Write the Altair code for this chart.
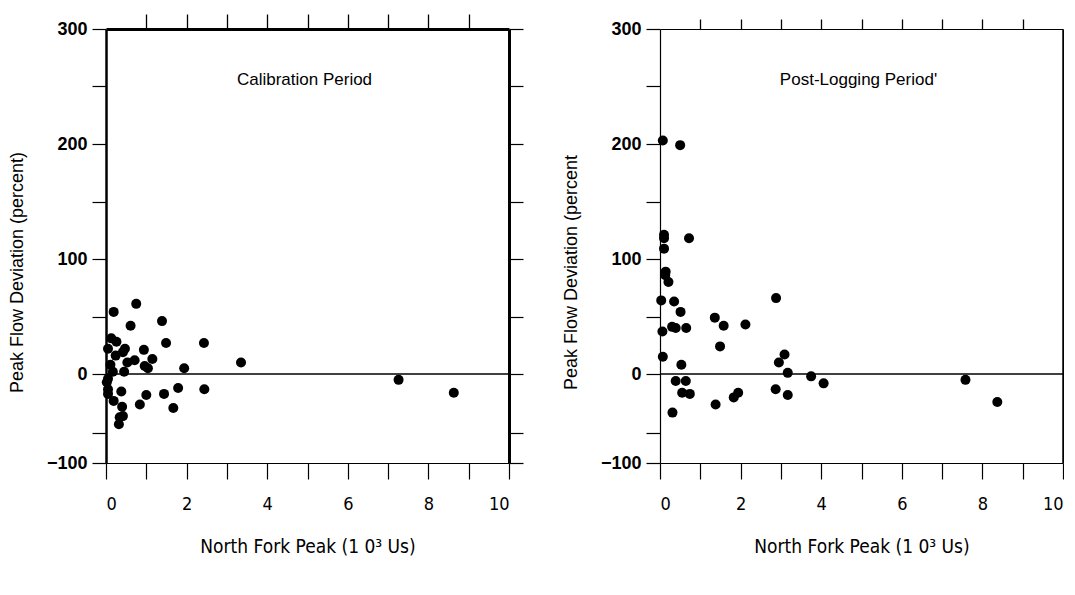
import altair as alt
import pandas as pd

# Calibration period
cal_x = [0.19, 0.75, 0.61, 1.39, 0.13, 0.26, 0.05, 0.47, 0.42, 0.24, 0.94, 1.49, 2.43,
         1.15, 0.71, 0.53, 0.96, 1.04, 0.11, 1.94, 3.35, 0.17, 0.45, 0.05, 0.02, 0.05,
         0.05, 0.38, 1.00, 1.44, 1.79, 2.44, 0.19, 0.84, 1.67, 0.40, 0.42, 0.34, 0.32,
         7.26, 8.63]
cal_y = [54, 61, 42, 46, 31, 28, 22, 22, 19, 16, 21, 27, 27,
         13, 12, 10, 7, 5, 8, 5, 10, 2, 2, -4, -7, -13,
         -17, -15, -18, -17, -12, -13, -23, -26, -29, -28, -36, -37, -43,
         -5, -16]

# Post-logging period
post_x = [0.07, 0.50, 0.10, 0.10, 0.72, 0.10, 0.14, 0.13, 0.21, 0.03, 0.35, 0.51, 2.88,
          1.36, 1.58, 2.12, 0.30, 0.39, 0.65, 0.06, 1.49, 0.07, 0.53, 3.09, 2.95, 3.17,
          3.75, 0.39, 0.64, 0.55, 0.74, 2.87, 3.17, 1.83, 1.94, 1.38, 0.31, 4.06, 7.58,
          8.37]
post_y = [203, 199, 121, 118, 118, 109, 89, 86, 80, 64, 63, 54, 66,
          49, 42, 43, 41, 40, 40, 37, 24, 15, 8, 17, 10, 1,
          -2, -6, -6, -16, -17, -13, -18, -20, -16, -26, -33, -8, -5,
          -24]

x_ticks = list(range(11))
x_top_ticks = list(range(1, 10))
y_ticks = list(range(-100, 301, 50))

W = 403
H = 434
# the scanned figure's lowest segment (-50 to -100) is drawn shorter than the others
Y_DOMAIN = [-100, -50, 0, 300]
Y_RANGE = [H, 403.5, 345, 0]

FONT = "Liberation Sans"
NARROW = "Liberation Sans Narrow, DejaVu Sans Condensed, Liberation Sans"
XTITLE = "North Fork Peak (1 0\u00b3 Us)"


def panel(xs, ys, label, ytitle, left_w, top_w, top_tick, right_w, right_ticks):
    df = pd.DataFrame({"x": xs, "y": ys})
    xscale = alt.Scale(domain=[0, 10], nice=False, zero=False)
    yscale = alt.Scale(domain=Y_DOMAIN, range=Y_RANGE)

    bottom_axis = alt.Axis(
        orient="bottom", values=x_ticks,
        labelExpr="datum.value % 2 === 0 ? datum.label : ''",
        tickSize=16, tickWidth=1.2, tickColor="black",
        domainWidth=1.2, domainColor="black", grid=False,
        labelFont=NARROW, labelFontSize=18, labelColor="black", labelPadding=16,
        title=XTITLE, titleFont=NARROW, titleFontSize=19, titleFontWeight="normal",
        titleColor="black", titlePadding=24,
    )
    left_axis = alt.Axis(
        orient="left", values=y_ticks,
        labelExpr="datum.value % 100 === 0 ? datum.label : ''",
        tickSize=14, tickWidth=1.2, tickColor="black",
        domainWidth=left_w, domainColor="black", grid=False,
        labelFont=FONT, labelFontSize=18, labelFontWeight="bold", labelColor="black",
        labelPadding=5,
        title=ytitle, titleFont=FONT, titleFontSize=18, titleFontWeight="normal",
        titleColor="black", titlePadding=20, titleY=243,
    )
    top_axis = alt.Axis(
        orient="top", values=x_top_ticks, labels=False, title=None,
        tickSize=top_tick, tickWidth=1.3, tickColor="black",
        domainWidth=top_w, domainColor="black", grid=False,
    )
    right_axis = alt.Axis(
        orient="right", values=y_ticks, labels=False, title=None,
        ticks=right_ticks, tickSize=14, tickWidth=1.2, tickColor="black",
        domainWidth=right_w, domainColor="black", grid=False,
    )

    points = alt.Chart(df).mark_circle(size=100, color="black", opacity=1).encode(
        x=alt.X("x:Q", scale=xscale, axis=bottom_axis),
        y=alt.Y("y:Q", scale=yscale, axis=left_axis),
    )
    frame = alt.Chart(df).mark_point(opacity=0).encode(
        x=alt.X("x:Q", scale=xscale, axis=top_axis),
        y=alt.Y("y:Q", scale=yscale, axis=right_axis),
    )
    zero = alt.Chart(pd.DataFrame({"v": [0]})).mark_rule(
        color="black", strokeWidth=1.3
    ).encode(y=alt.Y("v:Q", scale=yscale, axis=None))
    title = alt.Chart(pd.DataFrame({"t": [label]})).mark_text(
        font=FONT, fontSize=17, color="black", baseline="middle", align="center"
    ).encode(text="t:N", x=alt.value(W / 2 - 3), y=alt.value(51))

    return alt.layer(zero, points, frame, title).resolve_axis(
        x="independent", y="independent"
    ).properties(width=W, height=H)


left = panel(cal_x, cal_y, "Calibration   Period",
             "Peak Flow Deviation (percent)", 2.5, 3, 15, 3, True)
right = panel(post_x, post_y, "Post-Logging   Period'",
              "Peak Flow Deviation (percent", 1.2, 1.2, 10, 2.5, False)

chart = alt.hconcat(left, right, spacing=38).configure_view(stroke=None).properties(
    padding={"left": 0, "top": 5, "right": 0, "bottom": 0}
)

chart.save("out.html", embed_options={"renderer": "svg", "actions": False})
